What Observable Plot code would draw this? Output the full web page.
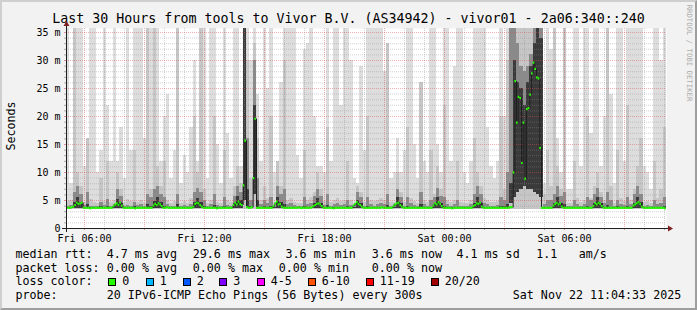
<!DOCTYPE html>
<html>
<head>
<meta charset="utf-8">
<script src="https://cdn.jsdelivr.net/npm/d3@7"></script>
<script src="https://cdn.jsdelivr.net/npm/@observablehq/plot@0.6"></script>
<style>
  html, body { margin:0; padding:0; background:#f2f2f2; }
  #wrap { position:relative; width:697px; height:310px; background:#f2f2f2; overflow:hidden;
          font-family:"DejaVu Sans Mono", monospace; color:#000; }
  #wrap .abs { position:absolute; white-space:pre; }
  #title { left:0; width:697px; top:11px; text-align:center; font-size:13.3px; line-height:16px; }
  .lg { font-size:11.66px; line-height:14px; }
  .box { position:absolute; width:6px; height:6px; border:1px solid #000; }
  #chart { position:absolute; left:0; top:20px; }
  #shade { position:absolute; left:0; top:0; width:697px; height:310px; box-sizing:border-box;
           border-style:solid; border-width:2px; border-color:#cfcfcf #9e9e9e #9e9e9e #cfcfcf; pointer-events:none; }
</style>
</head>
<body>
<div id="wrap">
  <div id="title" class="abs">Last 30 Hours from tools to Vivor B.V. (AS34942) - vivor01 - 2a06:340::240</div>
  <div id="chart"></div>
  <div id="shade"></div>
</div>
<script>
// ---------- data ----------
// smoke, one entry per 10-minute bin (180 bins), in ms
const pMax = [
  36, 8, 36, 36, 36, 11, 16, 36, 36, 10, 14, 36,
  22, 12, 36, 12, 18, 9, 36, 14, 36, 36, 36, 16,
  36, 36, 36, 36, 12, 20, 24, 9, 14, 36, 8, 13,
  10, 18, 30, 12, 36, 36, 9, 36, 36, 15, 8, 36,
  17, 9, 36, 36, 11, 36, 36, 30, 36, 24, 12, 36,
  25, 36, 10, 12, 26, 36, 36, 36, 36, 13, 9, 32,
  33, 36, 20, 11, 11, 10, 36, 12, 36, 36, 22, 36,
  36, 30, 9, 8, 29, 14, 36, 36, 36, 36, 36, 28,
  33, 9, 10, 16, 10, 14, 36, 36, 15, 9, 26, 12,
  10, 36, 36, 15, 10, 36, 36, 12, 29, 36, 36, 10,
  8, 12, 36, 36, 36, 36, 18, 11, 9, 12, 36, 20,
  36, 36, 36, 36, 36, 36, 36, 36, 36, 36, 36, 8,
  36, 32, 36, 16, 10, 36, 7, 7, 36, 36, 11, 36,
  36, 17, 36, 36, 11, 20, 36, 24, 8, 36, 36, 12,
  36, 36, 36, 36, 36, 11, 10, 7, 36, 36, 30, 36
];
const p90 = [
  4.8, 5.0, 36, 10, 7.5, 4.6, 16, 5.2, 4.6, 4.5, 9, 4.8,
  12, 4.6, 5.0, 10, 7.0, 4.5, 5.2, 4.8, 14, 4.7, 5.0, 4.5,
  36, 7.0, 36, 11, 7.5, 12, 5.0, 4.5, 4.8, 36, 4.4, 4.8,
  4.5, 5.4, 20, 10, 36, 7.0, 4.5, 5.0, 20, 4.7, 4.4, 14,
  5.0, 4.6, 7.5, 11, 8, 36, 30, 9, 33, 16, 5.0, 7.5,
  5.4, 20, 4.7, 12, 7.5, 30, 5.0, 5.4, 4.7, 4.5, 4.4, 14,
  5.0, 5.6, 6.5, 10, 7.0, 4.8, 18, 4.7, 5.0, 5.4, 4.9, 5.0,
  12, 5.0, 4.5, 7.5, 6.5, 4.7, 20, 5.0, 4.8, 5.0, 5.4, 5.0,
  33, 4.6, 4.7, 10, 6.5, 4.7, 18, 5.4, 4.9, 4.5, 26, 5.0,
  4.7, 14, 6.0, 11, 7.0, 22, 5.0, 4.7, 5.0, 12, 4.6, 4.5,
  4.5, 5.0, 16, 10, 7.5, 5.4, 5.0, 4.7, 4.6, 4.8, 20, 7.0,
  30, 36, 36, 36, 36, 36, 36, 36, 36, 36, 36, 6.0,
  14, 7.5, 36, 11, 7.0, 36, 4.5, 4.5, 12, 5.4, 4.7, 5.0,
  20, 5.4, 7.5, 10, 6.5, 5.0, 36, 7.5, 4.5, 14, 5.4, 4.9,
  22, 5.0, 7.0, 11, 16, 4.7, 4.8, 4.5, 12, 5.4, 7.0, 18
];
const p75 = [
  4.0, 4.1, 6.5, 7.5, 6.0, 4.1, 6.5, 4.0, 4.0, 4.0, 4.6, 4.1,
  5.2, 4.0, 4.2, 7.0, 5.8, 4.0, 4.1, 4.0, 4.6, 4.1, 4.2, 4.0,
  6.0, 5.5, 7.0, 7.5, 6.0, 5.5, 4.2, 4.0, 4.0, 6.0, 4.0, 4.1,
  4.0, 4.2, 6.5, 7.2, 6.5, 5.0, 4.0, 4.2, 6.0, 4.1, 4.0, 5.5,
  4.1, 4.0, 5.8, 7.5, 6.5, 36, 16, 5.0, 30, 9.0, 4.2, 5.0,
  4.4, 5.5, 4.0, 7.5, 6.0, 7.0, 4.2, 4.4, 4.1, 4.0, 4.0, 5.5,
  4.2, 4.4, 5.8, 7.0, 5.8, 4.1, 6.0, 4.0, 4.2, 4.4, 4.1, 4.2,
  5.0, 4.1, 4.1, 6.5, 5.5, 4.0, 5.5, 4.2, 4.0, 4.2, 4.4, 4.2,
  6.0, 4.0, 4.2, 7.0, 5.5, 4.0, 5.5, 4.4, 4.1, 4.0, 6.5, 4.2,
  4.0, 5.0, 5.5, 7.2, 5.8, 5.5, 4.2, 4.0, 4.2, 5.0, 4.0, 4.0,
  4.0, 4.2, 6.0, 7.5, 6.0, 4.4, 4.2, 4.0, 4.0, 4.1, 5.5, 5.0,
  10, 36, 36, 33, 29, 28, 29, 31, 36, 36, 36, 4.2,
  5.0, 5.0, 6.0, 7.5, 5.8, 6.5, 4.0, 4.0, 5.0, 4.2, 4.0, 4.2,
  5.5, 5.0, 6.0, 7.2, 5.5, 4.4, 6.5, 5.0, 4.0, 5.0, 4.2, 4.1,
  5.5, 4.2, 6.0, 7.5, 6.0, 4.0, 4.1, 4.0, 5.0, 4.2, 4.4, 5.5
];
const p60 = [
  3.8, 3.8, 4.6, 5.6, 4.6, 3.8, 4.2, 3.8, 3.8, 3.8, 3.9, 3.8,
  4.0, 3.8, 3.9, 5.2, 4.5, 3.8, 3.8, 3.8, 3.9, 3.8, 3.8, 3.8,
  4.2, 4.0, 4.8, 5.6, 4.6, 4.0, 3.8, 3.8, 3.8, 4.2, 3.8, 3.8,
  3.8, 3.8, 4.6, 5.4, 4.6, 3.9, 3.8, 3.8, 4.1, 3.8, 3.8, 4.0,
  3.8, 3.8, 4.4, 5.8, 5.0, 36, 7.0, 4.0, 22, 5.0, 3.8, 3.9,
  3.8, 3.9, 3.8, 5.6, 4.6, 4.3, 3.8, 3.8, 3.8, 3.8, 3.8, 3.9,
  3.8, 3.8, 4.4, 5.4, 4.5, 3.8, 4.1, 3.8, 3.8, 3.8, 3.8, 3.8,
  3.9, 3.8, 3.8, 5.0, 4.4, 3.8, 3.9, 3.8, 3.8, 3.8, 3.8, 3.8,
  4.1, 3.8, 3.8, 5.5, 4.4, 3.8, 3.9, 3.8, 3.8, 3.8, 4.2, 3.8,
  3.8, 3.8, 4.3, 5.6, 4.5, 3.9, 3.8, 3.8, 3.8, 3.8, 3.8, 3.8,
  3.8, 3.8, 4.4, 5.6, 4.5, 3.8, 3.8, 3.8, 3.8, 3.8, 3.9, 3.9,
  4.2, 8, 30, 26, 25, 22, 26, 29, 33, 36, 34, 3.8,
  3.8, 3.8, 4.4, 5.6, 4.5, 4.2, 3.8, 3.8, 3.8, 3.8, 3.8, 3.8,
  3.9, 3.8, 4.5, 5.5, 4.4, 3.8, 4.1, 3.8, 3.8, 3.9, 3.8, 3.8,
  3.9, 3.8, 4.5, 5.6, 4.6, 3.8, 3.8, 3.8, 3.8, 3.8, 3.8, 3.9
];
const pLow = [
  3.6, 3.6, 3.6, 3.6, 3.6, 3.6, 3.6, 3.6, 3.6, 3.6, 3.6, 3.6,
  3.6, 3.6, 3.6, 3.6, 3.6, 3.6, 3.6, 3.6, 3.6, 3.6, 3.6, 3.6,
  3.6, 3.6, 3.6, 3.6, 3.6, 3.6, 3.6, 3.6, 3.6, 3.6, 3.6, 3.6,
  3.6, 3.6, 3.6, 3.6, 3.6, 3.6, 3.6, 3.6, 3.6, 3.6, 3.6, 3.6,
  3.6, 3.6, 3.6, 3.6, 3.6, 5.0, 3.8, 3.6, 6.0, 3.7, 3.6, 3.6,
  3.6, 3.6, 3.6, 3.6, 3.6, 3.6, 3.6, 3.6, 3.6, 3.6, 3.6, 3.6,
  3.6, 3.6, 3.6, 3.6, 3.6, 3.6, 3.6, 3.6, 3.6, 3.6, 3.6, 3.6,
  3.6, 3.6, 3.6, 3.6, 3.6, 3.6, 3.6, 3.6, 3.6, 3.6, 3.6, 3.6,
  3.6, 3.6, 3.6, 3.6, 3.6, 3.6, 3.6, 3.6, 3.6, 3.6, 3.6, 3.6,
  3.6, 3.6, 3.6, 3.6, 3.6, 3.6, 3.6, 3.6, 3.6, 3.6, 3.6, 3.6,
  3.6, 3.6, 3.6, 3.6, 3.6, 3.6, 3.6, 3.6, 3.6, 3.6, 3.6, 3.6,
  3.6, 4.5, 5.5, 6.5, 7.0, 7.5, 7.0, 7.0, 6.5, 6.0, 5.5, 3.6,
  3.6, 3.6, 3.6, 3.6, 3.6, 3.6, 3.6, 3.6, 3.6, 3.6, 3.6, 3.6,
  3.6, 3.6, 3.6, 3.6, 3.6, 3.6, 3.6, 3.6, 3.6, 3.6, 3.6, 3.6,
  3.6, 3.6, 3.6, 3.6, 3.6, 3.6, 3.6, 3.6, 3.6, 3.6, 3.6, 3.6
];
const pMin = [
  3.45, 3.45, 3.45, 3.45, 3.45, 3.45, 3.45, 3.45, 3.45, 3.45, 3.45, 3.45,
  3.45, 3.45, 3.45, 3.45, 3.45, 3.45, 3.45, 3.45, 3.45, 3.45, 3.45, 3.45,
  3.45, 3.45, 3.45, 3.45, 3.45, 3.45, 3.45, 3.45, 3.45, 3.45, 3.45, 3.45,
  3.45, 3.45, 3.45, 3.45, 3.45, 3.45, 3.45, 3.45, 3.45, 3.45, 3.45, 3.45,
  3.45, 3.45, 3.45, 3.45, 3.45, 3.45, 3.45, 3.45, 3.45, 3.45, 3.45, 3.45,
  3.45, 3.45, 3.45, 3.45, 3.45, 3.45, 3.45, 3.45, 3.45, 3.45, 3.45, 3.45,
  3.45, 3.45, 3.45, 3.45, 3.45, 3.45, 3.45, 3.45, 3.45, 3.45, 3.45, 3.45,
  3.45, 3.45, 3.45, 3.45, 3.45, 3.45, 3.45, 3.45, 3.45, 3.45, 3.45, 3.45,
  3.45, 3.45, 3.45, 3.45, 3.45, 3.45, 3.45, 3.45, 3.45, 3.45, 3.45, 3.45,
  3.45, 3.45, 3.45, 3.45, 3.45, 3.45, 3.45, 3.45, 3.45, 3.45, 3.45, 3.45,
  3.45, 3.45, 3.45, 3.45, 3.45, 3.45, 3.45, 3.45, 3.45, 3.45, 3.45, 3.45,
  3.4, 3.4, 3.4, 3.4, 3.4, 3.4, 3.4, 3.4, 3.4, 3.4, 3.4, 3.45,
  3.45, 3.45, 3.45, 3.45, 3.45, 3.45, 3.45, 3.45, 3.45, 3.45, 3.45, 3.45,
  3.45, 3.45, 3.45, 3.45, 3.45, 3.45, 3.45, 3.45, 3.45, 3.45, 3.45, 3.45,
  3.45, 3.45, 3.45, 3.45, 3.45, 3.45, 3.45, 3.45, 3.45, 3.45, 3.45, 3.45
];
// median rtt, one entry per 5-minute step (360 steps), in ms
const median = [
  3.7,3.7,3.7,3.8,3.9,4.2,4.6,4.4,4.5,4.6,3.7,3.7,3.7,3.7,3.6,3.7,3.7,3.7,3.7,3.7,3.7,3.7,3.7,3.7,
  3.7,3.7,3.7,3.7,4.0,4.3,4.5,4.2,4.6,4.1,3.7,3.7,3.7,3.7,3.7,3.7,3.7,3.6,3.7,3.7,3.7,3.7,3.7,3.7,
  3.7,3.7,3.7,3.7,4.1,4.4,4.2,4.5,4.3,4.0,3.7,3.7,3.8,3.7,3.7,3.7,3.7,3.7,3.7,3.7,3.7,3.7,3.7,3.7,
  3.7,3.7,3.7,3.7,3.9,4.4,4.6,4.5,4.2,3.9,3.7,3.7,3.7,3.7,3.7,3.7,3.7,3.7,3.6,3.7,3.7,3.7,3.7,3.7,
  3.7,3.7,3.7,3.7,4.2,4.6,4.3,4.8,4.4,4.2,7.7,15.7,3.8,3.7,3.7,3.8,9.0,19.6,3.7,3.7,3.7,3.7,3.7,3.7,
  3.7,3.7,3.7,3.7,4.0,4.5,4.8,4.3,4.4,3.9,3.7,3.7,3.7,3.7,3.7,3.7,3.7,3.7,3.7,3.8,3.7,3.7,3.7,3.7,
  3.7,3.7,3.7,3.8,4.0,4.2,4.4,4.5,4.3,4.0,3.7,3.7,3.7,3.7,3.7,3.7,3.6,3.7,3.7,3.7,3.7,3.7,3.7,3.7,
  3.7,3.7,3.7,3.7,4.1,4.4,4.7,4.4,4.2,3.9,3.7,3.7,3.7,3.7,3.7,3.7,3.7,3.7,3.7,3.7,3.7,3.8,3.7,3.7,
  3.7,3.7,3.7,3.7,4.0,4.3,4.5,4.6,4.2,3.9,3.7,3.7,3.7,3.7,3.7,3.7,3.7,3.7,3.7,3.7,3.7,3.7,3.7,3.7,
  3.7,3.7,3.7,3.7,4.1,4.5,4.3,4.7,4.4,4.0,3.7,3.7,3.7,3.7,3.7,3.6,3.7,3.7,3.7,3.7,3.7,3.7,3.7,3.7,
  3.7,3.7,3.7,3.7,4.0,4.2,4.5,4.4,4.6,3.9,3.7,3.7,3.7,3.7,3.7,3.7,3.7,3.7,3.7,3.7,3.7,3.7,3.7,3.7,
  3.7,3.7,3.8,3.8,10.0,26.3,18.9,23.5,23.3,11.7,18.9,8.9,21.3,21.5,23.9,27.7,29.6,28.5,27.0,26.8,14.4,3.7,3.7,3.7,
  3.7,3.7,3.7,3.7,4.1,4.4,4.6,4.3,4.5,3.9,3.7,3.7,3.7,3.7,3.7,3.7,3.7,3.7,3.7,3.7,3.7,3.7,3.7,3.7,
  3.7,3.7,3.7,3.7,4.0,4.5,4.3,4.6,4.4,4.0,3.7,3.7,3.7,3.7,3.7,3.7,3.7,3.7,3.7,3.7,3.7,3.7,3.7,3.7,
  3.7,3.7,3.7,3.7,4.1,4.3,4.5,4.7,4.4,3.9,3.7,3.7,3.7,3.7,3.7,3.7,3.7,3.7,3.7,3.7,3.7,3.7,3.7,3.6
];
// axis ticks and labels
const yTicks = [0, 5, 10, 15, 20, 25, 30, 35];
const yTickLabels = ["0", "5 m", "10 m", "15 m", "20 m", "25 m", "30 m", "35 m"];
const xTickLabels = ["Fri 06:00", "Fri 12:00", "Fri 18:00", "Sat 00:00", "Sat 06:00"];
const xTicks = [Date.UTC(2025,10,21,6), Date.UTC(2025,10,21,12), Date.UTC(2025,10,21,18), Date.UTC(2025,10,22,0), Date.UTC(2025,10,22,6)];
// legend text
const title = "Last 30 Hours from tools to Vivor B.V. (AS34942) - vivor01 - 2a06:340::240";
const rttStats = ["4.7 ms avg", "29.6 ms max", "3.6 ms min", "3.6 ms now", "4.1 ms sd", "1.1", "am/s"];
const lossStats = ["0.00 % avg", "0.00 % max", "0.00 % min", "0.00 % now"];
const lossLabels = ["0", "1", "2", "3", "4-5", "6-10", "11-19", "20/20"];
const lossColors = ["#26ff00", "#00b8ff", "#0059ff", "#7e00ff", "#ff00ff", "#ff5500", "#ff0000", "#a10000"];
const probeText = "20 IPv6-ICMP Echo Pings (56 Bytes) every 300s";
const stampText = "Sat Nov 22 11:04:33 2025";

// ---------- build ----------
const MIN = 60e3;
const t0 = Date.UTC(2025, 10, 21, 5, 6);
const t1 = t0 + 30 * 60 * MIN;
const bins = pMax.map((_, k) => ({
  x1: new Date(t0 + k * 10 * MIN), x2: new Date(t0 + (k + 1) * 10 * MIN),
  min: pMin[k], low: pLow[k], p60: p60[k], p75: p75[k], p90: p90[k], max: pMax[k]
}));
const steps = median.map((v, j) => ({ a: new Date(t0 + j * 5 * MIN), b: new Date(t0 + (j + 1) * 5 * MIN), v }));
const hours = d3.utcHour.range(new Date(t0), new Date(t1 + 1));
const minorHours = hours.filter(d => d.getUTCHours() % 3 !== 0);
const majorHours = hours.filter(d => d.getUTCHours() % 3 === 0);
const yMinor = d3.range(1, 36).filter(v => v % 5 !== 0);
const yMajor = yTicks.filter(v => v > 0);
const yLabel = new Map(yTicks.map((v, i) => [v, yTickLabels[i]]));
const xLabel = new Map(xTicks.map((v, i) => [v, xTickLabels[i]]));

const W = 697, HS = 230, mL = 66, mR = 31, mT = 8, mB = 22;
const gridGray = "#8f8f8f", gridRed = "#de4f4f";

const chart = Plot.plot({
  width: W, height: HS, marginLeft: mL, marginRight: mR, marginTop: mT, marginBottom: mB,
  style: { background: "transparent", fontFamily: "'DejaVu Sans Mono', monospace", fontSize: "10px", overflow: "visible", color: "#000" },
  x: { type: "utc", domain: [new Date(t0), new Date(t1)], label: null },
  y: { domain: [0, 200 / 5.6], label: null },
  marks: [
    Plot.frame({ fill: "white", stroke: "none" }),
    Plot.rect(bins, { x1: "x1", x2: "x2", y1: "min", y2: "max", fill: "#dddddd", clip: true, shapeRendering: "crispEdges" }),
    Plot.rect(bins, { x1: "x1", x2: "x2", y1: "min", y2: "p90", fill: "#c6c6c6", clip: true, shapeRendering: "crispEdges" }),
    Plot.rect(bins, { x1: "x1", x2: "x2", y1: "low", y2: "p75", fill: "#8a8a8a", clip: true, shapeRendering: "crispEdges" }),
    Plot.rect(bins, { x1: "x1", x2: "x2", y1: "low", y2: "p60", fill: "#3a3a3a", clip: true, shapeRendering: "crispEdges" }),
    Plot.ruleX(minorHours, { stroke: gridGray, strokeOpacity: 0.4, strokeDasharray: "1,1" }),
    Plot.ruleY(yMinor, { stroke: gridGray, strokeOpacity: 0.4, strokeDasharray: "1,1" }),
    Plot.ruleX(majorHours, { stroke: gridRed, strokeOpacity: 0.45, strokeDasharray: "1,1" }),
    Plot.ruleY(yMajor, { stroke: gridRed, strokeOpacity: 0.45, strokeDasharray: "1,1" }),
    Plot.line(steps, { x: "a", y: "v", curve: "step-after", stroke: "#202020", strokeWidth: 1 }),
    Plot.ruleY(steps, { x1: "a", x2: "b", y: "v", stroke: "#26ff00", strokeWidth: 2.2 }),
    Plot.axisY(yMinor, { tickSize: 2, tickFormat: () => "", stroke: gridGray, strokeOpacity: 0.75, label: null }),
    Plot.axisY(yTicks, { tickSize: 2, tickPadding: 4, tickFormat: d => yLabel.get(d), stroke: gridRed, strokeOpacity: 0.6, fill: "#000", fontSize: 10, label: null }),
    Plot.axisX(minorHours, { tickSize: 2, tickFormat: () => "", stroke: gridGray, strokeOpacity: 0.75, label: null }),
    Plot.axisX(majorHours, { tickSize: 2, tickFormat: () => "", stroke: gridRed, strokeOpacity: 0.6, label: null }),
    Plot.axisX(xTicks.map(v => new Date(v)), { tickSize: 0, tickPadding: 6, tickFormat: d => xLabel.get(+d), fill: "#000", fontSize: 10, label: null })
  ]
});

// axis lines and arrows (rrdtool style)
const X0 = mL, X1 = W - mR, Y0 = HS - mB, Y1 = mT;
const g = d3.select(chart).append("g");
g.append("line").attr("x1", X0 - 4).attr("x2", X1 + 4).attr("y1", Y0 + 0.5).attr("y2", Y0 + 0.5).attr("stroke", "#1f1f1f");
g.append("line").attr("x1", X0 + 0.5).attr("x2", X0 + 0.5).attr("y1", Y0 + 4).attr("y2", Y1 - 4).attr("stroke", "#1f1f1f");
g.append("path").attr("d", `M${X1 + 2},${Y0 - 2.5}L${X1 + 2},${Y0 + 3.5}L${X1 + 7},${Y0 + 0.5}Z`).attr("fill", "#801f1f");
g.append("path").attr("d", `M${X0 - 2.5},${Y1 - 2}L${X0 + 3.5},${Y1 - 2}L${X0 + 0.5},${Y1 - 7}Z`).attr("fill", "#801f1f");
document.getElementById("chart").appendChild(chart);

// ---------- texts ----------
const wrap = document.getElementById("wrap");
document.getElementById("title").textContent = title;
function put(text, x, y, extra) {
  const s = document.createElement("div");
  s.className = "abs lg";
  s.textContent = text;
  s.style.left = x + "px";
  s.style.top = y + "px";
  if (extra) Object.assign(s.style, extra);
  wrap.insertBefore(s, document.getElementById("shade"));
  return s;
}
const rows = [246.8, 260.5, 274.3, 288];
put("median rtt:", 15.4, rows[0]);
[106.8, 192.8, 285.5, 371.8, 456.5, 536.2, 578.8].forEach((x, i) => put(rttStats[i], x, rows[0]));
put("packet loss:", 15.4, rows[1]);
[106.8, 192.8, 278.8, 371.8].forEach((x, i) => put(lossStats[i], x, rows[1]));
put("loss color:", 15.4, rows[2]);
[108, 145.5, 182.5, 219, 256.5, 307.5, 365.5, 430.5].forEach((x, i) => {
  const b = document.createElement("div");
  b.className = "box";
  b.style.left = x + "px"; b.style.top = "278px"; b.style.background = lossColors[i];
  wrap.insertBefore(b, document.getElementById("shade"));
  put(lossLabels[i], x + 14.3, rows[2]);
});
put("probe:", 15.4, rows[3]);
put(probeText, 106.8, rows[3]);
put(stampText, 512.8, rows[3]);
put("Seconds", 11, 126, { transform: "translate(-50%,-50%) rotate(-90deg)" });
put("RRDTOOL / TOBI OETIKER", 688.5, 52.5, { transform: "translate(-50%,-50%) rotate(90deg)", fontSize: "7.3px", color: "#acacac", lineHeight: "8px" });
</script>
</body>
</html>
